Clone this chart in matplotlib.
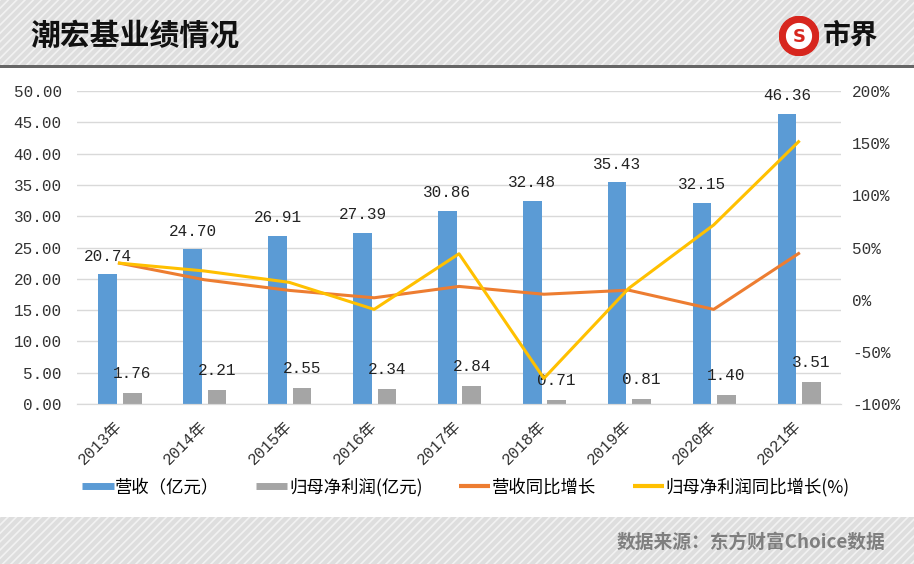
'''潮宏基业绩情况: revenue / net profit bars with YoY growth lines.'''
import matplotlib
matplotlib.use('Agg')
import matplotlib.pyplot as plt
from matplotlib.patches import Rectangle, Circle
from matplotlib.lines import Line2D
from matplotlib.ticker import FuncFormatter, MultipleLocator

plt.rcParams['font.family'] = ['Liberation Mono', 'Noto Sans CJK SC', 'DejaVu Sans']
plt.rcParams['hatch.linewidth'] = 1.2

# data
years = ['2013年', '2014年', '2015年', '2016年', '2017年',
         '2018年', '2019年', '2020年', '2021年']
revenue = [20.74, 24.70, 26.91, 27.39, 30.86, 32.48, 35.43, 32.15, 46.36]
net_profit = [1.76, 2.21, 2.55, 2.34, 2.84, 0.71, 0.81, 1.40, 3.51]
revenue_yoy = [35, 19.1, 8.9, 1.8, 12.7, 5.2, 9.1, -9.3, 44.2]
profit_yoy = [35, 27.5, 16.6, -9.3, 44, -75.4, 10.9, 71.6, 151.4]

series_names = ['营收（亿元）', '归母净利润(亿元)', '营收同比增长', '归母净利润同比增长(%)']

BLUE = '#5b9bd5'
GRAY = '#a5a5a5'
ORANGE = '#ed7d31'
YELLOW = '#ffc000'

fig = plt.figure(figsize=(9.14, 5.64), dpi=100)
fig.patch.set_facecolor('white')

# header and footer bands with the diagonal stripe texture
header = Rectangle((0, 1 - 65 / 564), 1, 65 / 564, transform=fig.transFigure,
                   facecolor='#dedede', edgecolor='#f2f2f2', hatch='////',
                   linewidth=0, zorder=-2)
fig.patches.append(header)
fig.patches.append(Rectangle((0, 1 - 68 / 564), 1, 3 / 564, transform=fig.transFigure,
                             facecolor='#666666', linewidth=0, zorder=-1))
footer = Rectangle((0, 0), 1, 47 / 564, transform=fig.transFigure,
                   facecolor='#dedede', edgecolor='#f2f2f2', hatch='////',
                   linewidth=0, zorder=-2)
fig.patches.append(footer)

fig.text(30 / 914, 1 - 36 / 564, '潮宏基业绩情况', family='Noto Sans CJK SC',
         fontsize=21.5, fontweight='heavy', color='#111111', va='center', ha='left')
fig.text(885 / 914, 1 - 542 / 564, '数据来源：东方财富Choice数据', family='Noto Sans CJK SC',
         fontsize=13.5, fontweight='bold', color='#7f7f7f', va='center', ha='right')

# logo
logo = fig.add_axes([778 / 914, 1 - 56 / 564, 42 / 914, 40 / 564], zorder=5)
logo.set_xlim(-1, 1)
logo.set_ylim(-1, 1)
logo.set_aspect('equal')
logo.axis('off')
logo.patch.set_alpha(0)
logo.add_patch(Circle((0, 0), 0.98, color='#d7261e'))
logo.add_patch(Circle((0, 0), 0.62, color='white'))
logo.text(0, -0.04, 'S', family='DejaVu Sans', fontweight='bold', fontsize=13,
          color='#d7261e', ha='center', va='center')
fig.text(851 / 914, 1 - 36 / 564, '市界', family='Noto Sans CJK SC', fontsize=20,
         fontweight='heavy', color='#111111', ha='center', va='center')

# main chart
ax = fig.add_axes([77 / 914, 1 - 404 / 564, 764 / 914, 313 / 564])
ax2 = ax.twinx()

x = list(range(len(years)))
bar_w = 0.22
xb = [i - 0.137 for i in x]
xg = [i + 0.151 for i in x]
ax.bar(xb, revenue, width=bar_w, color=BLUE, zorder=2)
ax.bar(xg, net_profit, width=bar_w, color=GRAY, zorder=2)

for xi, v in zip(xb, revenue):
    ax.annotate(f'{v:.2f}', (xi, v), xytext=(0, 13), textcoords='offset points',
                ha='center', va='center', fontsize=11.5, color='#222222', zorder=5)
for xi, v in zip(xg, net_profit):
    ax.annotate(f'{v:.2f}', (xi, v), xytext=(0, 14), textcoords='offset points',
                ha='center', va='center', fontsize=11.5, color='#222222', zorder=5)

ax.set_xlim(-0.5, len(years) - 0.5)
ax.set_ylim(0, 50)
ax.yaxis.set_major_locator(MultipleLocator(5))
ax.yaxis.set_major_formatter(FuncFormatter(lambda v, p: f'{v:.2f}'))
ax.grid(axis='y', color='#d9d9d9', linewidth=1, zorder=0)
ax.set_axisbelow(True)
ax.set_xticks(x)
ax.set_xticklabels(years, rotation=45, ha='right', va='center', rotation_mode='anchor')
ax.tick_params(axis='x', length=0, pad=14, labelsize=11.5, labelcolor='#333333')
ax.tick_params(axis='y', length=0, pad=11, labelsize=11.5, labelcolor='#333333')

ax2.plot(x, revenue_yoy, color=ORANGE, linewidth=2.2, zorder=3)
ax2.plot(x, profit_yoy, color=YELLOW, linewidth=2.2, zorder=4)
ax2.set_ylim(-100, 200)
ax2.yaxis.set_major_locator(MultipleLocator(50))
ax2.yaxis.set_major_formatter(FuncFormatter(lambda v, p: f'{v:.0f}%'))
ax2.tick_params(axis='y', length=0, pad=8, labelsize=11.5, labelcolor='#333333')

for a in (ax, ax2):
    for side in ('top', 'left', 'right'):
        a.spines[side].set_visible(False)
    a.spines['bottom'].set_color('#d9d9d9')

handles = [Line2D([], [], color=BLUE, linewidth=5, solid_capstyle='butt'),
           Line2D([], [], color=GRAY, linewidth=5, solid_capstyle='butt'),
           Line2D([], [], color=ORANGE, linewidth=3, solid_capstyle='butt'),
           Line2D([], [], color=YELLOW, linewidth=3, solid_capstyle='butt')]
fig.legend(handles, series_names, loc='center', bbox_to_anchor=(466 / 914, 1 - 487 / 564),
           ncol=4, frameon=False, handlelength=1.8, handletextpad=0.1, columnspacing=2.1,
           prop={'family': 'Noto Sans CJK SC', 'size': 12.5})

fig.savefig('out.png', dpi=100)
